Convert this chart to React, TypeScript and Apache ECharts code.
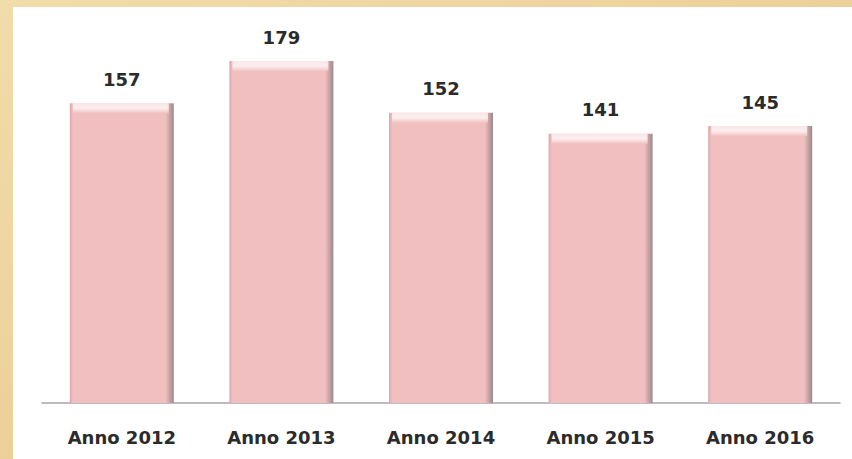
import React, { useEffect, useRef } from "react";
import * as echarts from "echarts";

const categories = ["Anno 2012", "Anno 2013", "Anno 2014", "Anno 2015", "Anno 2016"];
const values = [157, 179, 152, 141, 145];

export default function App() {
  const ref = useRef<HTMLDivElement>(null);
  useEffect(() => {
    document.body.style.margin = "0";
    const chart = echarts.init(ref.current!, null, { renderer: "svg" });
    const font = "'DejaVu Sans', 'Open Sans', sans-serif";
    chart.setOption({
      animation: false,
      backgroundColor: new echarts.graphic.LinearGradient(0, 0, 1, 1, [
        { offset: 0, color: "#f1dcab" },
        { offset: 0.5, color: "#ecd09a" },
        { offset: 1, color: "#e9c98e" },
      ]),
      graphic: [
        {
          type: "rect",
          left: 13,
          top: 7,
          shape: { width: 900, height: 500 },
          style: { fill: "#ffffff" },
          z: -10,
          silent: true,
        },
      ],
      grid: { left: 42, right: 12, top: 21, bottom: 56 },
      xAxis: {
        type: "category",
        data: categories,
        axisLine: { show: true, lineStyle: { color: "#a7a7a7", width: 1.5 } },
        axisTick: { show: false },
        axisLabel: {
          margin: 24,
          fontFamily: font,
          fontWeight: "bold",
          fontSize: 18,
          lineHeight: 20,
          color: "#2b2b2b",
        },
      },
      yAxis: {
        type: "value",
        min: 0,
        max: 200,
        show: false,
        splitLine: { show: false },
      },
      series: [
        {
          type: "bar",
          data: values,
          barWidth: 104,
          itemStyle: {
            color: new echarts.graphic.LinearGradient(0, 0, 1, 0, [
              { offset: 0, color: "#dca6a8" },
              { offset: 0.03, color: "#f2bfc0" },
              { offset: 0.92, color: "#f2bfc0" },
              { offset: 0.96, color: "#c9a3a5" },
              { offset: 1, color: "#9a8a8c" },
            ]),
          },
          label: {
            show: true,
            position: "top",
            distance: 14,
            fontFamily: font,
            fontWeight: "bold",
            fontSize: 18,
            lineHeight: 20,
            color: "#2b2b2b",
          },
          z: 2,
        },
        {
          type: "scatter",
          data: values,
          symbol: "rect",
          symbolSize: [96, 10],
          symbolOffset: [-1, 5],
          silent: true,
          itemStyle: {
            color: new echarts.graphic.LinearGradient(0, 0, 0, 1, [
              { offset: 0, color: "#fdf0f0" },
              { offset: 0.5, color: "#fffafa" },
              { offset: 1, color: "#f2c3c4" },
            ]),
          },
          z: 3,
        },
      ],
    });
    return () => chart.dispose();
  }, []);
  return <div ref={ref} style={{ width: 852, height: 459 }} />;
}
